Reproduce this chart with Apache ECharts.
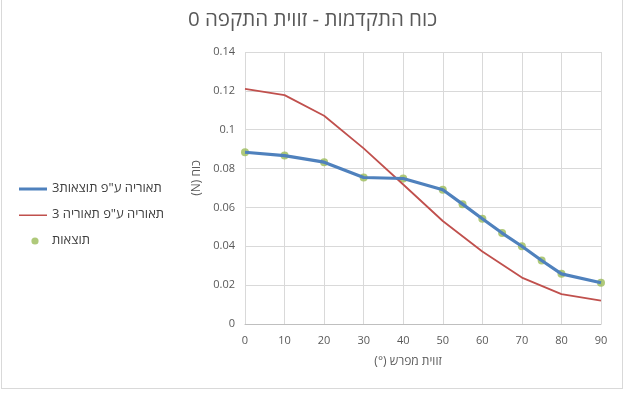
<!DOCTYPE html>
<html><head><meta charset="utf-8">
<script src="https://cdn.jsdelivr.net/npm/echarts@6/dist/echarts.min.js"></script>
<style>html,body{margin:0;padding:0;background:#fff}#c{position:absolute;left:0;top:0;width:625px;height:394px}#b{position:absolute;left:1px;top:-1px;width:620px;height:388px;border:1px solid #d9d9d9;pointer-events:none}</style>
</head><body><div id="c"></div><div id="b"></div>
<script>
const title = 'כוח התקדמות - זווית התקפה 0';
const xName = '\u202Bזווית מפרש (°)\u202C';
const yName = '\u202Bכוח (N)\u202C';
const seriesNames = ['תאוריה ע"פ תוצאות3', 'תאוריה ע"פ תאוריה 3', 'תוצאות'];
const resultAngles = [0, 10, 20, 30, 40, 50, 55, 60, 65, 70, 75, 80, 90];
const resultValues = [0.0884, 0.0867, 0.0833, 0.0754, 0.0749, 0.0691, 0.0617, 0.0542, 0.0468, 0.0400, 0.0327, 0.0258, 0.0212];
const theoryAngles = [0, 10, 20, 30, 40, 50, 60, 70, 80, 90];
const theoryValues = [0.1210, 0.1178, 0.1072, 0.0904, 0.0718, 0.0530, 0.0373, 0.0239, 0.0154, 0.0120];
const yTicks = [0, 0.02, 0.04, 0.06, 0.08, 0.1, 0.12, 0.14];
const xTicks = [0, 10, 20, 30, 40, 50, 60, 70, 80, 90];

const pair = (xs, ys) => xs.map((x, i) => [x, ys[i]]);
const font = '"Open Sans", "DejaVu Sans", sans-serif';
const chart = echarts.init(document.getElementById('c'));
chart.setOption({
  animation: false,
  textStyle: {fontFamily: font},
  title: {text: title, left: 'center', top: 5, textStyle: {fontSize: 20.5, fontWeight: 'normal', color: '#595959', fontFamily: font}},
  legend: {
    orient: 'vertical', left: 14, top: 177, itemGap: 13, itemWidth: 28, itemHeight: 10,
    textStyle: {fontSize: 13, color: '#404040', fontFamily: font},
    data: [
      {name: seriesNames[0], icon: 'path://M0,0L0.01,0M0,4L28,4L28,7L0,7ZM28,10L27.99,10'},
      {name: seriesNames[1], icon: 'path://M0,0L0.01,0M0,5L28,5L28,6.6L0,6.6ZM28,10L27.99,10'},
      {name: seriesNames[2], icon: 'path://M0,0L0.01,0M16,5.5m-3.6,0a3.6,3.6 0 1,0 7.2,0a3.6,3.6 0 1,0 -7.2,0M28,10L27.99,10'}
    ]
  },
  grid: {left: 245, right: 24, top: 52, bottom: 70},
  xAxis: {
    type: 'value', min: 0, max: 90, interval: 10,
    name: xName, nameLocation: 'middle', nameGap: 32,
    nameTextStyle: {fontSize: 12, color: '#595959', padding: [0, 30, 0, 0]},
    axisLine: {show: true, lineStyle: {color: '#bfbfbf'}},
    axisTick: {show: false},
    axisLabel: {fontSize: 11, color: '#595959', margin: 11},
    splitLine: {show: true, lineStyle: {color: '#d9d9d9'}}
  },
  yAxis: {
    type: 'value', min: 0, max: 0.14, interval: 0.02,
    name: yName, nameLocation: 'middle', nameGap: 40, nameRotate: 90,
    nameTextStyle: {fontSize: 12, color: '#595959', padding: [0, 0, 0, 20]},
    axisLine: {show: false}, axisTick: {show: false},
    axisLabel: {fontSize: 11, color: '#595959', margin: 10, formatter: v => String(+v.toFixed(2))},
    splitLine: {show: true, lineStyle: {color: '#d9d9d9'}}
  },
  series: [
    {name: seriesNames[1], type: 'line', data: pair(theoryAngles, theoryValues), showSymbol: false, symbol: 'none',
     itemStyle: {color: '#c0504d'}, lineStyle: {color: '#c0504d', width: 1.8}},
    {name: seriesNames[0], type: 'line', data: pair(resultAngles, resultValues), showSymbol: false, symbol: 'none',
     itemStyle: {color: '#4f81bd'}, lineStyle: {color: '#4f81bd', width: 3.2}},
    {name: seriesNames[2], type: 'scatter', data: pair(resultAngles, resultValues), symbolSize: 8,
     itemStyle: {color: '#9bbb59'}}
  ]
});
</script></body></html>
